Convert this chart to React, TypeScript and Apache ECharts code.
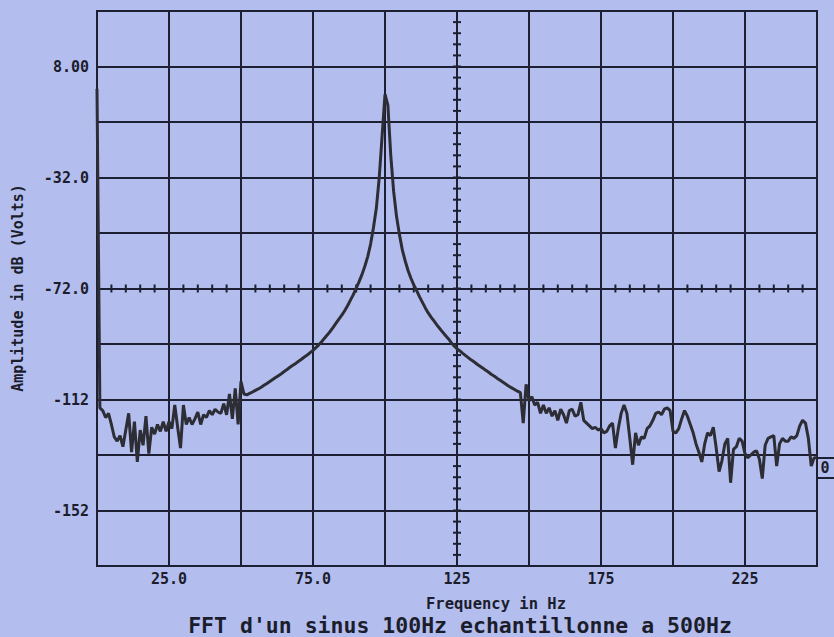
import React, { useEffect, useRef } from "react";
import * as echarts from "echarts";

// Frequency step of the FFT trace (Hz) — the x of sample i is i * FREQ_STEP
const FREQ_STEP = 1;

// Amplitude in dB, 0 Hz .. 250 Hz
const amplitudes: number[] = [
  0, -115, -116, -118.5, -117, -121, -125.5, -127, -125, -129,
  -123, -117, -131, -120, -134.5, -123, -128.5, -118, -131.5, -122,
  -124.5, -121, -123.5, -120, -123.5, -120, -122.5, -114, -122, -129.5,
  -114, -121, -118.5, -121, -119, -116.5, -121, -117.5, -118.5, -116,
  -117.5, -115.5, -116.5, -117, -113.5, -117.5, -110, -119, -108, -121,
  -105.5, -110, -110.3, -109.8, -109.3, -108.7, -108.2, -107.6, -106.9, -106.2,
  -105.5, -104.8, -104.1, -103.4, -102.7, -101.9, -101.2, -100.4, -99.7, -99,
  -98.2, -97.5, -96.7, -96, -95.1, -94.3, -93.3, -92.3, -91.2, -89.9,
  -88.7, -87.4, -86, -84.5, -83, -81.6, -80, -78.2, -76.2, -74.2,
  -71.9, -69.5, -67, -64, -60.5, -56, -50, -43, -32, -17,
  -2, -6, -24, -37, -46, -52.5, -58, -62, -65.5, -68.3,
  -70.7, -72.8, -75, -77, -79, -80.8, -82.3, -83.7, -85.1, -86.4,
  -87.7, -88.9, -90.1, -91.5, -92.7, -93.7, -94.5, -95.4, -96.2, -97,
  -97.8, -98.5, -99.3, -100, -100.7, -101.5, -102.2, -103, -103.6, -104.4,
  -105.1, -105.8, -106.5, -107.2, -107.8, -108.4, -109, -109.5, -120.5, -106.5,
  -112.5, -111, -114, -113, -117, -114, -117, -115, -118, -116,
  -119.5, -115.5, -117.5, -120.5, -116, -115.5, -118, -117.5, -113, -119.5,
  -120.5, -121.5, -122.5, -122, -123, -122.5, -124, -123.5, -121.5, -120.5,
  -129.5, -122.5, -117, -114, -117, -126, -135.5, -124, -128.5, -125.5,
  -126, -122.5, -121.5, -119.5, -117, -116.5, -117.5, -115.5, -115, -116,
  -123.5, -124, -122.5, -119, -116, -118, -121, -124, -128, -131,
  -134.5, -128, -124, -125, -122, -129.5, -138, -134, -128, -126,
  -142, -130, -129, -126, -127, -131.5, -133, -132, -131, -130.5,
  -133.5, -140.5, -128.5, -126, -125.5, -125, -136, -128, -126, -127,
  -127, -125.5, -126, -125, -121.5, -119.5, -120.5, -126, -136, -133,
  -133,
];

// Axis ranges and ticks
const X_MIN = 0;
const X_MAX = 250;
const X_GRID_STEP = 25;
const xLabelValues = [25, 75, 125, 175, 225];

const Y_MIN = -172;
const Y_MAX = 28;
const yGridValues = [-172, -152, -132, -112, -92, -72, -52, -32, -12, 8, 28];
const yLabelValues = [8, -32, -72, -112, -152];

// Central cross axes with small ticks
const CROSS_Y = -72;
const CROSS_X = 125;
const hTickFreqs: number[] = [];
for (let f = 5; f < X_MAX; f += 5) hTickFreqs.push(f);
const vTickAmps: number[] = [];
for (let a = Y_MIN + 4; a < Y_MAX; a += 4) vTickAmps.push(a);

const TITLE = "FFT d'un sinus 100Hz echantillonne a 500Hz";
const X_NAME = "Frequency in Hz";
const Y_NAME = "Amplitude in dB (Volts)";
const MARKER = "0";

const BG = "#b4beee";
const GRID = "#1d2033";
const TRACE = "#2d2d35";
const TEXT = "#1b1d2c";
const FONT = "'DejaVu Sans Mono', 'Liberation Mono', monospace";

const fmt = (v: number) => Number(v).toPrecision(3);

export default function App() {
  const ref = useRef<HTMLDivElement>(null);
  useEffect(() => {
    if (!ref.current) return;
    const chart = echarts.init(ref.current, undefined, { renderer: "svg" });
    const labelStyle = {
      color: TEXT,
      fontFamily: FONT,
      fontWeight: "bold" as const,
      fontSize: 15,
    };
    const tickRender = (horizontal: boolean) => (params: any, api: any) => {
      const p = api.coord([api.value(0), api.value(1)]);
      return {
        type: "line",
        shape: horizontal
          ? { x1: p[0], y1: p[1] - 4, x2: p[0], y2: p[1] + 4 }
          : { x1: p[0] - 4, y1: p[1], x2: p[0] + 4, y2: p[1] },
        style: { stroke: GRID, lineWidth: 2 },
      };
    };
    chart.setOption({
      animation: false,
      backgroundColor: BG,
      grid: {
        left: 97,
        right: 17,
        top: 11,
        bottom: 71,
        show: true,
        borderColor: GRID,
        borderWidth: 2,
      },
      xAxis: {
        type: "value",
        min: X_MIN,
        max: X_MAX,
        interval: X_GRID_STEP,
        axisLine: { show: false },
        axisTick: { show: false },
        splitLine: { show: true, lineStyle: { color: GRID, width: 2 } },
        axisLabel: {
          ...labelStyle,
          customValues: xLabelValues,
          formatter: fmt,
          margin: 5,
        },
      },
      yAxis: {
        type: "value",
        min: Y_MIN,
        max: Y_MAX,
        axisLine: { show: false },
        axisTick: { show: false, customValues: yGridValues },
        splitLine: { show: true, lineStyle: { color: GRID, width: 2 } },
        axisLabel: {
          ...labelStyle,
          customValues: yLabelValues,
          formatter: fmt,
          margin: 8,
        },
      },
      graphic: [
        {
          type: "text",
          x: 18,
          y: 288,
          rotation: Math.PI / 2,
          style: {
            text: Y_NAME,
            fill: TEXT,
            font: `bold 15px ${FONT}`,
            align: "center",
            verticalAlign: "middle",
          },
        },
        {
          type: "text",
          x: 496,
          y: 604,
          style: {
            text: X_NAME,
            fill: TEXT,
            font: `bold 15.5px ${FONT}`,
            align: "center",
            verticalAlign: "middle",
          },
        },
        {
          type: "text",
          x: 460,
          y: 625,
          style: {
            text: TITLE,
            fill: TEXT,
            font: `bold 21.5px ${FONT}`,
            align: "center",
            verticalAlign: "middle",
          },
        },
        {
          type: "rect",
          shape: { x: 817, y: 458, width: 22, height: 20 },
          style: { fill: BG, stroke: GRID, lineWidth: 2 },
        },
        {
          type: "text",
          x: 825,
          y: 468,
          style: {
            text: MARKER,
            fill: TEXT,
            font: `bold 15px ${FONT}`,
            align: "center",
            verticalAlign: "middle",
          },
        },
      ],
      series: [
        {
          type: "custom",
          silent: true,
          renderItem: tickRender(true),
          data: hTickFreqs.map((f) => [f, CROSS_Y]),
          z: 2,
        },
        {
          type: "custom",
          silent: true,
          renderItem: tickRender(false),
          data: vTickAmps.map((a) => [CROSS_X, a]),
          z: 2,
        },
        {
          type: "line",
          data: amplitudes.map((a, i) => [i * FREQ_STEP, a]),
          showSymbol: false,
          symbol: "none",
          lineStyle: { color: TRACE, width: 3 },
          z: 3,
        },
      ],
    });
    return () => chart.dispose();
  }, []);
  return (
    <div
      ref={ref}
      style={{ position: "absolute", left: 0, top: 0, width: 834, height: 637 }}
    />
  );
}
